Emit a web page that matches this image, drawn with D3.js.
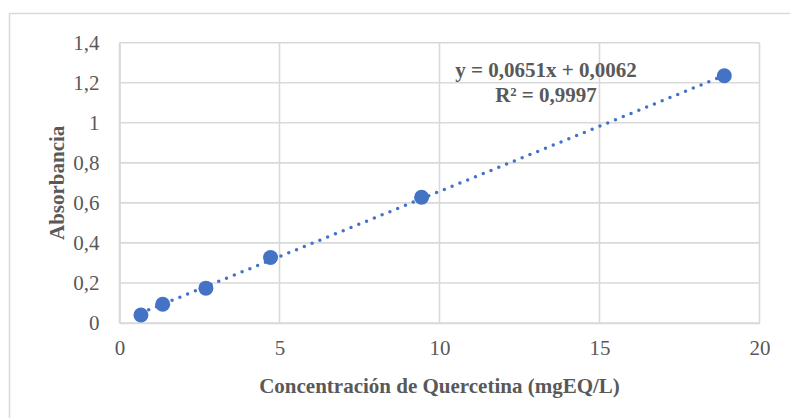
<!DOCTYPE html>
<html>
<head>
<meta charset="utf-8">
<script src="https://cdn.jsdelivr.net/npm/d3@7"></script>
<style>
  html, body { margin: 0; padding: 0; background: #fff; }
  svg { display: block; }
</style>
</head>
<body>
<svg id="chart" width="790" height="418"></svg>
<script>
// ---- data ----
const concentration = [0.67, 1.35, 2.70, 4.72, 9.44, 18.9];
const absorbance    = [0.040, 0.094, 0.174, 0.327, 0.628, 1.235];
const xTicks = [0, 5, 10, 15, 20];
const yTicks = [0, 0.2, 0.4, 0.6, 0.8, 1.0, 1.2, 1.4];
const slope = 0.0651;
const intercept = 0.0062;
const equationLines = ["y = 0,0651x + 0,0062", "R² = 0,9997"];
const xTitle = "Concentración de Quercetina (mgEQ/L)";
const yTitle = "Absorbancia";

// ---- layout ----
const svg = d3.select("#chart");
const pLeft = 119.5, pRight = 759.5, pTop = 42.7, pBottom = 323;
const x = d3.scaleLinear().domain([0, 20]).range([pLeft, pRight]);
const y = d3.scaleLinear().domain([0, 1.4]).range([pBottom, pTop]);
const grid = "#d9d9d9", textCol = "#595959", blue = "#4472C4";
const serif = "'Liberation Serif', LiberationSerif, Tinos, 'Noto Serif', 'DejaVu Serif', FreeSerif, 'Nimbus Roman', 'Times New Roman', Times, serif";
const fmt = v => String(+v.toFixed(1)).replace(".", ",");

// outer chart border
svg.append("rect").attr("x", 9.5).attr("y", 13.5).attr("width", 800).attr("height", 420)
  .attr("fill", "#fff").attr("stroke", grid).attr("stroke-width", 1.5);

// gridlines
svg.append("g").selectAll("line").data(yTicks).join("line")
  .attr("x1", pLeft).attr("x2", pRight)
  .attr("y1", d => y(d)).attr("y2", d => y(d))
  .attr("stroke", grid).attr("stroke-width", 1.6);
svg.append("g").selectAll("line").data(xTicks).join("line")
  .attr("y1", pTop).attr("y2", pBottom)
  .attr("x1", d => x(d)).attr("x2", d => x(d))
  .attr("stroke", grid).attr("stroke-width", 1.6);

// axes
const xAxis = svg.append("g").attr("transform", `translate(0,${pBottom})`)
  .call(d3.axisBottom(x).tickValues(xTicks).tickSize(0).tickPadding(0).tickFormat(d => fmt(d)));
xAxis.attr("font-family", serif).attr("font-size", 21);
xAxis.select(".domain").attr("stroke", grid).attr("stroke-width", 1.6);
xAxis.selectAll("text").attr("y", 32).attr("dy", null).attr("fill", textCol);

const yAxis = svg.append("g").attr("transform", `translate(${pLeft},0)`)
  .call(d3.axisLeft(y).tickValues(yTicks).tickSize(0).tickPadding(20).tickFormat(d => fmt(d)));
yAxis.attr("font-family", serif).attr("font-size", 21);
yAxis.select(".domain").attr("stroke", grid).attr("stroke-width", 1.6);
yAxis.selectAll("text").attr("dy", "0.3em").attr("fill", textCol);

// trendline (dotted)
const xMin = d3.min(concentration), xMax = d3.max(concentration);
svg.append("line")
  .attr("x1", x(xMin)).attr("y1", y(slope * xMin + intercept))
  .attr("x2", x(xMax)).attr("y2", y(slope * xMax + intercept))
  .attr("stroke", blue).attr("stroke-width", 3.5)
  .attr("stroke-linecap", "round").attr("stroke-dasharray", "0 8.4");

// markers
svg.append("g").selectAll("circle").data(concentration).join("circle")
  .attr("cx", d => x(d)).attr("cy", (d, i) => y(absorbance[i]))
  .attr("r", 7.5).attr("fill", blue);

// equation label
svg.append("g").selectAll("text").data(equationLines).join("text")
  .attr("x", 546).attr("y", (d, i) => 77 + i * 25)
  .attr("text-anchor", "middle").attr("font-family", serif).attr("font-size", 21)
  .attr("font-weight", "bold").attr("fill", textCol).text(d => d);

// axis titles
svg.append("text").attr("x", (pLeft + pRight) / 2).attr("y", 393)
  .attr("text-anchor", "middle").attr("font-family", serif).attr("font-size", 21)
  .attr("font-weight", "bold").attr("fill", textCol).text(xTitle);
svg.append("text").attr("transform", `translate(64,${(pTop + pBottom) / 2}) rotate(-90)`)
  .attr("text-anchor", "middle").attr("font-family", serif).attr("font-size", 21)
  .attr("font-weight", "bold").attr("fill", textCol).text(yTitle);
</script>
</body>
</html>
